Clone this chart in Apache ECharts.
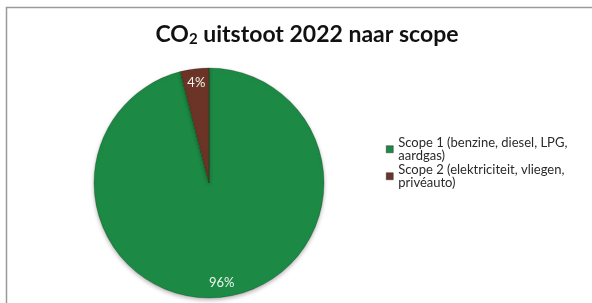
<!DOCTYPE html>
<html lang="nl">
<head>
    <meta charset="UTF-8">
    <title>CO2 uitstoot 2022 naar scope</title>
    <script src="https://cdn.jsdelivr.net/npm/echarts@6/dist/echarts.min.js"></script>
    <style>
        html, body { margin: 0; padding: 0; background: #fff; }
    </style>
</head>
<body>
    <div id="main" style="width: 592px;height:303px;"></div>
    <script type="text/javascript">
        // gegevens uit de grafiek
        var scopes = ['Scope 1 (benzine, diesel, LPG, aardgas)', 'Scope 2 (elektriciteit, vliegen, privéauto)'];
        var legendLines = ['Scope 1 (benzine, diesel, LPG,\naardgas)', 'Scope 2 (elektriciteit, vliegen,\nprivéauto)'];
        var shares = [96, 4];
        var colors = ['#1c8a44', '#6b3427'];

        var pieData = [];
        for (var i = 0; i < scopes.length; i++) {
            pieData.push({ name: scopes[i], value: shares[i] });
        }

        var L = 13.5; // regelhoogte legenda
        var font = 'Lato, "Open Sans", sans-serif';

        var myChart = echarts.init(document.getElementById('main'));
        var option = {
            animation: false,
            color: colors,
            title: {
                text: 'CO{sub|2} uitstoot 2022 naar scope',
                left: 302,
                textAlign: 'center',
                top: 17,
                textStyle: {
                    fontFamily: font,
                    fontSize: 23,
                    fontWeight: 'bold',
                    color: '#111',
                    rich: {
                        sub: {
                            fontFamily: font,
                            fontSize: 15,
                            fontWeight: 'bold',
                            color: '#111',
                            verticalAlign: 'bottom',
                            padding: [10, 0, 0, 0]
                        }
                    }
                }
            },
            legend: {
                orient: 'vertical',
                left: 386,
                top: 129,
                padding: 0,
                itemWidth: 7,
                itemHeight: 7,
                itemGap: -L,
                icon: 'rect',
                itemStyle: { borderColor: '#333', borderWidth: 0.5 },
                data: scopes,
                formatter: function (name) {
                    return legendLines[scopes.indexOf(name)];
                },
                textStyle: {
                    fontFamily: font,
                    fontSize: 13,
                    color: '#2a2a2a',
                    lineHeight: L,
                    padding: [L, 0, 0, 0],
                    backgroundColor: 'rgba(0,0,0,0)'
                }
            },
            graphic: [{
                type: 'rect',
                shape: { x: 6.5, y: 7.5, width: 620, height: 320 },
                style: { fill: 'none', stroke: '#9a9a9a', lineWidth: 1.5 },
                silent: true
            }],
            series: [
                {
                    name: 'CO2 uitstoot',
                    type: 'pie',
                    center: [209, 183],
                    radius: [0, 115],
                    startAngle: 90,
                    clockwise: true,
                    label: { show: false },
                    labelLine: { show: false },
                    itemStyle: {
                        borderColor: 'rgba(0,0,0,0.35)',
                        borderWidth: 0.6,
                        shadowBlur: 4,
                        shadowOffsetY: 2,
                        shadowColor: 'rgba(0,0,0,0.3)'
                    },
                    data: pieData
                },
                {
                    name: 'labels',
                    type: 'pie',
                    center: [209, 183],
                    radius: [88, 108],
                    startAngle: 90,
                    clockwise: true,
                    silent: true,
                    itemStyle: { color: 'rgba(0,0,0,0)' },
                    label: {
                        show: true,
                        position: 'inside',
                        formatter: '{c}%',
                        fontFamily: font,
                        fontSize: 13,
                        color: '#eef6ee'
                    },
                    labelLine: { show: false },
                    data: pieData
                }
            ]
        };
        myChart.setOption(option);
    </script>
</body>
</html>
